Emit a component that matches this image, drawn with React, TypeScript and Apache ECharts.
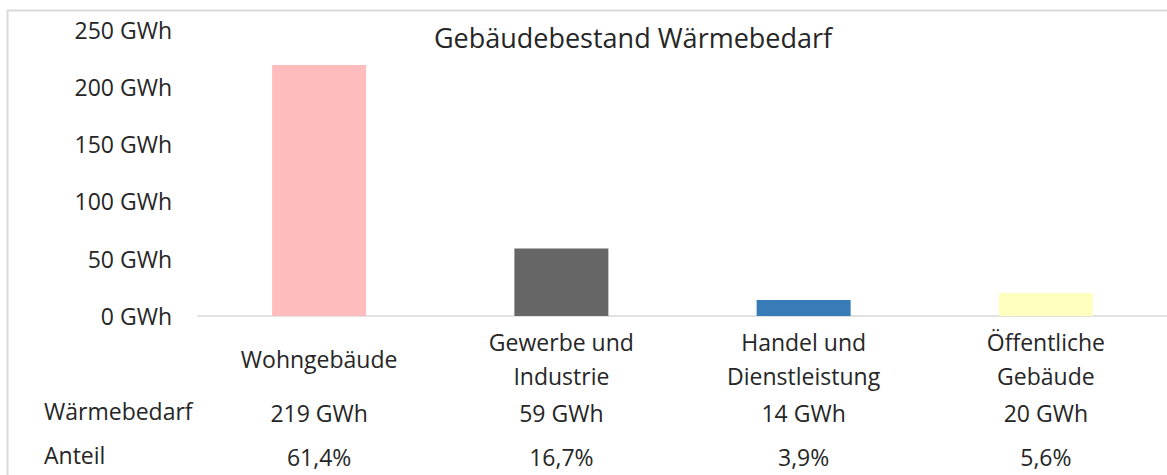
import React, { useEffect, useRef } from "react";
import * as echarts from "echarts";

const categories = ["Wohngebäude", "Gewerbe und\nIndustrie", "Handel und\nDienstleistung", "Öffentliche\nGebäude"];
const waermebedarf = [219, 59, 14, 20];
const anteil = ["61,4%", "16,7%", "3,9%", "5,6%"];
const barColors = ["#ffbcbc", "#666666", "#377bb7", "#ffffc0"];
const yTicks = { min: 0, max: 250, interval: 50 };
const title = "Gebäudebestand Wärmebedarf";
const rowLabels = ["Wärmebedarf", "Anteil"];

const FONT = "'Open Sans', 'Noto Sans', sans-serif";
const TXT = "#262626";
const FS = 23;

export default function App() {
  const ref = useRef<HTMLDivElement>(null);
  useEffect(() => {
    if (!ref.current) return;
    const chart = echarts.init(ref.current, undefined, { renderer: "svg" });
    const gridTop = 29.5;
    const gridBottom = 475 - 316;
    const extraAxis = (margin: number, fmt: (i: number) => string) => ({
      type: "category",
      data: categories,
      gridIndex: 0,
      position: "bottom",
      axisLine: { show: false },
      axisTick: { show: false },
      splitLine: { show: false },
      axisLabel: {
        margin,
        verticalAlign: "middle",
        interval: 0,
        fontSize: FS,
        fontFamily: FONT,
        color: TXT,
        formatter: (_v: string, i: number) => fmt(i),
      },
    });
    chart.setOption({
      animation: false,
      backgroundColor: "#fff",
      title: {
        text: title,
        left: 628,
        textAlign: "center",
        top: 19,
        textStyle: { fontSize: 27, fontWeight: "normal", fontFamily: FONT, color: TXT },
      },
      grid: { left: 198, top: gridTop, width: 974, bottom: gridBottom, containLabel: false },
      xAxis: [
        {
          type: "category",
          data: categories,
          axisLine: { show: true, lineStyle: { color: "#d9d9d9", width: 1.5 } },
          axisTick: { show: false },
          axisLabel: {
            interval: 0,
            margin: 43,
            verticalAlign: "middle",
            lineHeight: 34,
            fontSize: FS,
            fontFamily: FONT,
            color: TXT,
          },
        },
        extraAxis(97, (i) => `${waermebedarf[i]} GWh`),
        extraAxis(141, (i) => anteil[i]),
      ],
      yAxis: {
        type: "value",
        min: yTicks.min,
        max: yTicks.max,
        interval: yTicks.interval,
        splitLine: { show: false },
        axisLine: { show: false },
        axisTick: { show: false },
        axisLabel: {
          margin: 26,
          fontSize: FS,
          fontFamily: FONT,
          color: TXT,
          formatter: (v: number) => `${v} GWh`,
        },
      },
      series: [
        {
          type: "bar",
          xAxisIndex: 0,
          barWidth: 94,
          data: waermebedarf.map((v, i) => ({ value: v, itemStyle: { color: barColors[i] } })),
        },
      ],
      graphic: [
        {
          type: "rect",
          shape: { x: 7.5, y: 10.5, width: 1300, height: 600 },
          style: { fill: "none", stroke: "#d9d9d9", lineWidth: 2 },
          silent: true,
        },
        ...rowLabels.map((t, k) => ({
          type: "text",
          left: 44,
          top: [413, 457][k] - 13.5,
          style: { text: t, fontSize: FS, fontFamily: FONT, fill: TXT },
        })),
      ],
    });
    return () => chart.dispose();
  }, []);
  return (
    <div
      ref={ref}
      style={{ position: "fixed", left: 0, top: 0, width: 1167, height: 475 }}
    />
  );
}
